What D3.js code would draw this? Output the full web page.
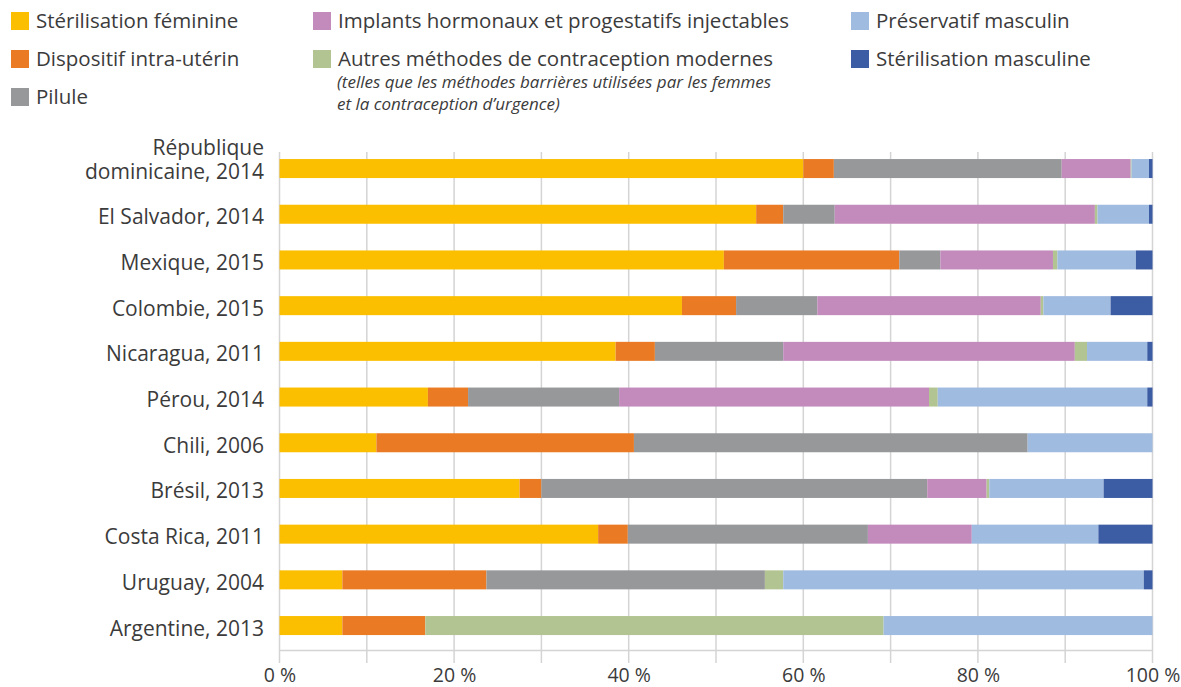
<!DOCTYPE html>
<html>
<head>
<meta charset="utf-8">
<script src="https://cdn.jsdelivr.net/npm/d3@7"></script>
<style>
  body { margin: 0; background: #fff; }
  text { font-family: "Open Sans", "Noto Sans", sans-serif; fill: #3b3b3b; }
</style>
</head>
<body>
<div id="chart"></div>
<script>
// data, in % of users of modern methods
let countries = ["République dominicaine, 2014", "El Salvador, 2014", "Mexique, 2015", "Colombie, 2015",
    "Nicaragua, 2011", "Pérou, 2014", "Chili, 2006", "Brésil, 2013", "Costa Rica, 2011",
    "Uruguay, 2004", "Argentine, 2013"];

let sterilFem   = [60.0, 54.6, 50.9, 46.1, 38.5, 17.0, 11.1, 27.5, 36.5, 7.2, 7.2];
let diu         = [3.5, 3.1, 20.1, 6.2, 4.5, 4.6, 29.5, 2.5, 3.4, 16.5, 9.5];
let pilule      = [26.1, 5.9, 4.7, 9.3, 14.7, 17.3, 45.1, 44.2, 27.5, 31.9, 0];
let implants    = [7.9, 29.8, 12.9, 25.6, 33.4, 35.5, 0, 6.8, 11.9, 0, 0];
let autres      = [0.1, 0.3, 0.5, 0.3, 1.4, 1.0, 0, 0.3, 0, 2.1, 52.5];
let preservatif = [2.0, 5.9, 9.0, 7.7, 6.9, 24.0, 14.3, 13.1, 14.5, 41.3, 30.8];
let sterilMasc  = [0.4, 0.4, 1.9, 4.8, 0.6, 0.6, 0, 5.6, 6.2, 1.0, 0];

let seriesKeys = ["sterilFem", "diu", "pilule", "implants", "autres", "preservatif", "sterilMasc"];
let seriesNames = ["Stérilisation féminine", "Dispositif intra-utérin", "Pilule",
    "Implants hormonaux et progestatifs injectables", "Autres méthodes de contraception modernes",
    "Préservatif masculin", "Stérilisation masculine"];
let colors = ["#fbbf00", "#ea7b24", "#97989a", "#c28bbc", "#b2c491", "#a0bbe0", "#3c5da4"];
let autresNote = ["(telles que les méthodes barrières utilisées par les femmes", "et la contraception d’urgence)"];

let xTicks = [0, 20, 40, 60, 80, 100];

let w = 1181, h = 687;

let rows = countries.map(function (c, i) {
    return {
        country: c,
        sterilFem: sterilFem[i], diu: diu[i], pilule: pilule[i], implants: implants[i],
        autres: autres[i], preservatif: preservatif[i], sterilMasc: sterilMasc[i]
    };
});

let svg = d3.select("#chart")
    .append("svg")
    .attr("width", w)
    .attr("height", h);

let xScale = d3.scaleLinear()
    .domain([0, 100])
    .range([279.5, 1152.5]);

let yScale = d3.scaleBand()
    .domain(countries)
    .range([145.7, 648.4])
    .paddingInner(0.584)
    .paddingOuter(0.292);

// grid lines every 10 %
svg.append("g")
    .selectAll("line")
    .data(d3.range(0, 101, 10))
    .enter()
    .append("line")
    .attr("x1", function (d) { return xScale(d); })
    .attr("x2", function (d) { return xScale(d); })
    .attr("y1", 152)
    .attr("y2", 663)
    .style("stroke", "#d4d4d4")
    .style("stroke-width", "1.5px");

// baseline
svg.append("line")
    .attr("x1", xScale(0))
    .attr("x2", xScale(100))
    .attr("y1", 650.5)
    .attr("y2", 650.5)
    .style("stroke", "#d4d4d4")
    .style("stroke-width", "1.5px");

let stack = d3.stack().keys(seriesKeys);
let layers = stack(rows);

svg.append("g")
    .selectAll("g")
    .data(layers)
    .enter()
    .append("g")
    .attr("fill", function (d, i) { return colors[i]; })
    .selectAll("rect")
    .data(function (d) { return d; })
    .enter()
    .append("rect")
    .attr("x", function (d) { return xScale(d[0]); })
    .attr("width", function (d) { return xScale(d[1]) - xScale(d[0]); })
    .attr("y", function (d) { return yScale(d.data.country); })
    .attr("height", yScale.bandwidth());

// x axis labels
let xAxis = d3.axisBottom(xScale)
    .tickValues(xTicks)
    .tickSize(0)
    .tickPadding(0)
    .tickFormat(function (d) { return d + " %"; });

svg.append("g")
    .attr("class", "axis")
    .attr("transform", "translate(0, 682)")
    .call(xAxis)
    .call(function (g) { g.select(".domain").remove(); })
    .selectAll("text")
    .attr("fill", null)
    .attr("dy", 0)
    .style("font-size", "19.5px");

// category labels
let cat = svg.append("g")
    .selectAll("text")
    .data(countries)
    .enter()
    .append("text")
    .attr("x", 264)
    .attr("y", function (d) { return yScale(d) + yScale.bandwidth() / 2 + 10; })
    .style("text-anchor", "end")
    .style("font-size", "21px");

cat.each(function (d) {
    let el = d3.select(this);
    if (d.indexOf("République") === 0) {
        el.append("tspan").attr("x", 264).attr("dy", -24).text("République");
        el.append("tspan").attr("x", 264).attr("dy", 24).text("dominicaine, 2014");
    } else {
        el.text(d);
    }
});

// legend
let legendPos = [[11, 21], [11, 59], [11, 97], [313, 21], [313, 59], [851, 21], [851, 59]];

let legend = svg.append("g")
    .selectAll("g")
    .data(seriesNames)
    .enter()
    .append("g")
    .attr("transform", function (d, i) {
        return "translate(" + legendPos[i][0] + ", " + legendPos[i][1] + ")";
    });

legend.append("rect")
    .attr("x", 0)
    .attr("y", -9)
    .attr("width", 18)
    .attr("height", 18)
    .attr("fill", function (d, i) { return colors[i]; });

legend.append("text")
    .attr("x", 25)
    .attr("y", 7)
    .style("font-size", "20.5px")
    .text(function (d) { return d; });

svg.append("g")
    .selectAll("text")
    .data(autresNote)
    .enter()
    .append("text")
    .attr("x", 337)
    .attr("y", function (d, i) { return 88 + i * 22; })
    .style("font-size", "17px")
    .style("font-style", "italic")
    .text(function (d) { return d; });
</script>
</body>
</html>
